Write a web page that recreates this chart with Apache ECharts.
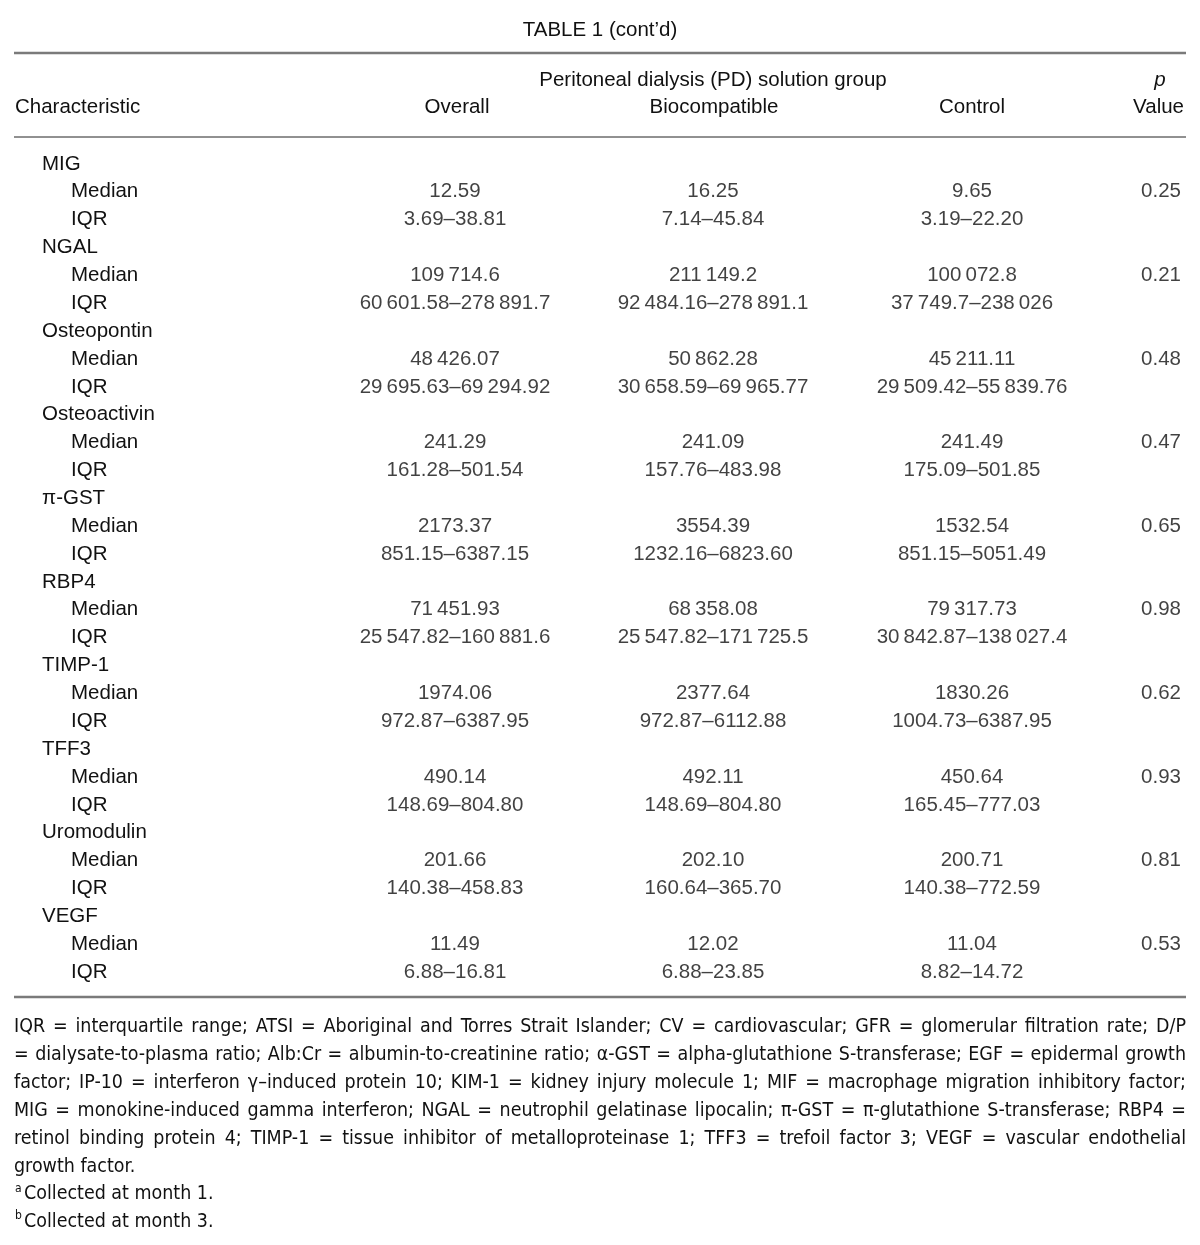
<!DOCTYPE html>
<html><head><meta charset="utf-8">
<script src="https://cdn.jsdelivr.net/npm/echarts@6/dist/echarts.min.js"></script>
<style>html,body{margin:0;padding:0;background:#fff}#c{width:1200px;height:1245px}</style>
</head><body><div id="c"></div>
<script>
// ---------- data ----------
const groups = ['MIG','NGAL','Osteopontin','Osteoactivin','\u03c0-GST','RBP4','TIMP-1','TFF3','Uromodulin','VEGF'];
const statLabels = ['Median','IQR'];
const columnHeaders = ['Overall','Biocompatible','Control'];
const overallMedian = ['12.59','109\u2009714.6','48\u2009426.07','241.29','2173.37','71\u2009451.93','1974.06','490.14','201.66','11.49'];
const overallIQR = ['3.69\u201338.81','60\u2009601.58\u2013278\u2009891.7','29\u2009695.63\u201369\u2009294.92','161.28\u2013501.54','851.15\u20136387.15','25\u2009547.82\u2013160\u2009881.6','972.87\u20136387.95','148.69\u2013804.80','140.38\u2013458.83','6.88\u201316.81'];
const bioMedian = ['16.25','211\u2009149.2','50\u2009862.28','241.09','3554.39','68\u2009358.08','2377.64','492.11','202.10','12.02'];
const bioIQR = ['7.14\u201345.84','92\u2009484.16\u2013278\u2009891.1','30\u2009658.59\u201369\u2009965.77','157.76\u2013483.98','1232.16\u20136823.60','25\u2009547.82\u2013171\u2009725.5','972.87\u20136112.88','148.69\u2013804.80','160.64\u2013365.70','6.88\u201323.85'];
const ctrlMedian = ['9.65','100\u2009072.8','45\u2009211.11','241.49','1532.54','79\u2009317.73','1830.26','450.64','200.71','11.04'];
const ctrlIQR = ['3.19\u201322.20','37\u2009749.7\u2013238\u2009026','29\u2009509.42\u201355\u2009839.76','175.09\u2013501.85','851.15\u20135051.49','30\u2009842.87\u2013138\u2009027.4','1004.73\u20136387.95','165.45\u2013777.03','140.38\u2013772.59','8.82\u201314.72'];
const pValues = ['0.25','0.21','0.48','0.47','0.65','0.98','0.62','0.93','0.81','0.53'];
const footLines = [
 'IQR = interquartile range; ATSI = Aboriginal and Torres Strait Islander; CV = cardiovascular; GFR = glomerular filtration rate; D/P',
 '= dialysate-to-plasma ratio; Alb:Cr = albumin-to-creatinine ratio; \u03b1-GST = alpha-glutathione S-transferase; EGF = epidermal growth',
 'factor; IP-10 = interferon \u03b3\u2013induced protein 10; KIM-1 = kidney injury molecule 1; MIF = macrophage migration inhibitory factor;',
 'MIG = monokine-induced gamma interferon; NGAL = neutrophil gelatinase lipocalin; \u03c0-GST = \u03c0-glutathione S-transferase; RBP4 =',
 'retinol binding protein 4; TIMP-1 = tissue inhibitor of metalloproteinase 1; TFF3 = trefoil factor 3; VEGF = vascular endothelial',
 'growth factor.'
];
const footNotes = [['a','Collected at month 1.'],['b','Collected at month 3.']];

// ---------- layout ----------
const FONT = '"Liberation Sans", Arial, sans-serif';
const FS = 20.5;
const TXT = '#111';
const COLX = {overall: 455, bio: 713, ctrl: 972, p: 1181};
const L = 14, R = 1186;

const rows = [];
groups.forEach((g, gi) => {
  rows.push({label: g, kind: 'g'});
  statLabels.forEach((s, si) => rows.push({label: s, kind: 's', gi, si}));
});
function colData(x, med, iqr) {
  const d = [];
  rows.forEach((r, ri) => {
    if (r.kind !== 's') return;
    const t = r.si === 0 ? med[r.gi] : (iqr ? iqr[r.gi] : null);
    if (t) d.push({value: [x, ri], text: t});
  });
  return d;
}
function textSeries(name, data, pos) {
  return {
    name, type: 'scatter', data, symbolSize: 0, silent: true,
    label: {show: true, position: pos, distance: 0, formatter: p => p.data.text,
      fontFamily: FONT, fontSize: FS, color: TXT}
  };
}

// font detection for footnotes
const ctx = document.createElement('canvas').getContext('2d');
function installed(name) {
  const s = 'abcdefghijklmnopqrstuvwxyz ABCDEFG 0123456789';
  ctx.font = '20px monospace'; const a = ctx.measureText(s).width;
  ctx.font = '20px "' + name + '", monospace'; const b = ctx.measureText(s).width;
  ctx.font = '20px serif'; const c = ctx.measureText(s).width;
  ctx.font = '20px "' + name + '", serif'; const d = ctx.measureText(s).width;
  return Math.abs(a - b) > 0.5 || Math.abs(c - d) > 0.5;
}
let FN_FAMILY;
if (installed('Liberation Sans Narrow')) FN_FAMILY = '"Liberation Sans Narrow"';
else if (installed('DejaVu Sans Condensed')) FN_FAMILY = '"DejaVu Sans Condensed"';
else FN_FAMILY = '"Liberation Sans"';
// size the footnote font so the justified lines only need small extra gaps
ctx.font = '20px ' + FN_FAMILY;
const maxW20 = Math.max(...footLines.slice(0, -1).map(l => ctx.measureText(l).width));
const FN_SIZE = Math.min(21, 20 * (R - L - 12) / maxW20);
ctx.font = FN_SIZE + 'px ' + FN_FAMILY;

const graphics = [];
const footY0 = 1027, footDY = 27.9;
footLines.forEach((line, li) => {
  const y = footY0 + li * footDY;
  const words = line.split(' ');
  const justify = li < footLines.length - 1;
  const widths = words.map(w => ctx.measureText(w).width);
  const sum = widths.reduce((a, b) => a + b, 0);
  const gap = justify ? (R - L - sum) / (words.length - 1) : ctx.measureText(' ').width;
  let x = L;
  words.forEach((w, wi) => {
    graphics.push({type: 'text', x, y, style: {text: w, fontSize: FN_SIZE, fontFamily: FN_FAMILY, fill: TXT, verticalAlign: 'middle', align: 'left'}});
    x += widths[wi] + gap;
  });
});
footNotes.forEach((fn, i) => {
  const y = footY0 + (footLines.length + i) * footDY;
  graphics.push({type: 'text', x: L + 1, y: y - 6, style: {text: fn[0], fontSize: 12, fontFamily: FN_FAMILY, fill: TXT, verticalAlign: 'middle'}});
  graphics.push({type: 'text', x: L + 10, y, style: {text: fn[1], fontSize: FN_SIZE, fontFamily: FN_FAMILY, fill: TXT, verticalAlign: 'middle'}});
});

// rules
function rule(y, w, c) { graphics.push({type: 'line', shape: {x1: L, y1: y, x2: R, y2: y}, style: {stroke: c, lineWidth: w}}); }
rule(53, 2.5, '#7a7a7a');
rule(137, 1, '#222');
rule(997, 2.5, '#7a7a7a');

// headers
function htext(text, x, y, align, extra) {
  graphics.push({type: 'text', x, y, style: Object.assign({text, fontSize: FS, fontFamily: FONT, fill: TXT, align, verticalAlign: 'middle'}, extra || {})});
}
htext('Peritoneal dialysis (PD) solution group', 713, 80, 'center');
htext('Characteristic', 15, 107, 'left');
htext(columnHeaders[0], 457, 107, 'center');
htext(columnHeaders[1], 714, 107, 'center');
htext(columnHeaders[2], 972, 107, 'center');
htext('p', 1160, 80, 'center', {fontStyle: 'italic'});
htext('Value', 1184, 107, 'right');

const chart = echarts.init(document.getElementById('c'), null, {renderer: 'canvas'});
chart.setOption({
  backgroundColor: '#fff',
  animation: false,
  title: {text: 'TABLE 1 (cont\u2019d)', left: 'center', top: 15,
    textStyle: {fontFamily: FONT, fontSize: FS, fontWeight: 'normal', color: TXT}},
  grid: {left: 0, right: 0, top: 150, height: 836},
  xAxis: {type: 'value', min: 0, max: 1200, show: false},
  yAxis: {
    type: 'category', inverse: true, data: rows.map(r => r.label),
    axisLine: {show: false}, axisTick: {show: false}, splitLine: {show: false},
    axisLabel: {
      inside: true, margin: 42, align: 'left', interval: 0,
      formatter: (v, i) => rows[i].kind === 'g' ? '{g|' + v + '}' : '{s|' + v + '}',
      rich: {
        g: {fontFamily: FONT, fontSize: FS, color: TXT},
        s: {fontFamily: FONT, fontSize: FS, color: TXT, padding: [0, 0, 0, 29]}
      }
    }
  },
  series: [
    textSeries('Overall', colData(COLX.overall, overallMedian, overallIQR), 'inside'),
    textSeries('Biocompatible', colData(COLX.bio, bioMedian, bioIQR), 'inside'),
    textSeries('Control', colData(COLX.ctrl, ctrlMedian, ctrlIQR), 'inside'),
    textSeries('p Value', colData(COLX.p, pValues, null), 'left')
  ],
  graphic: graphics
});
</script>
</body></html>
